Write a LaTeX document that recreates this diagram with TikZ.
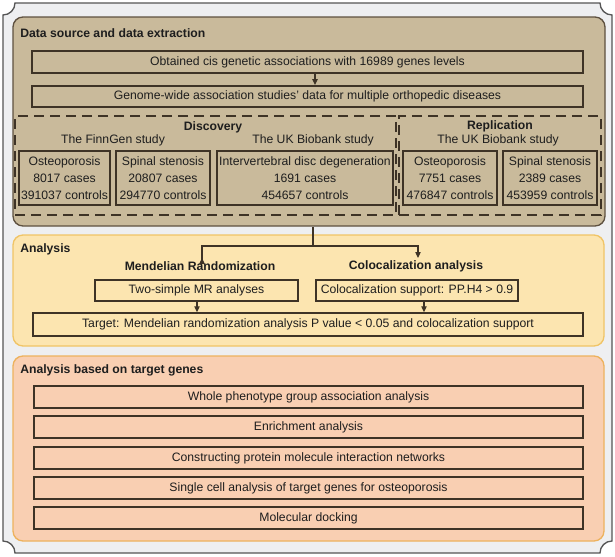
\documentclass[tikz,border=0pt]{standalone}
\usepackage{fontspec}
\setmainfont{Liberation Sans}
\usetikzlibrary{arrows.meta}
\definecolor{framefill}{HTML}{EEEFF1}
\definecolor{framedraw}{HTML}{555555}
\definecolor{tanfill}{HTML}{C9BA9B}
\definecolor{tandraw}{HTML}{5E5140}
\definecolor{boxdraw}{HTML}{3E3326}
\definecolor{yelfill}{HTML}{FCE5B0}
\definecolor{yeldraw}{HTML}{F0C466}
\definecolor{salfill}{HTML}{F9CFB2}
\definecolor{saldraw}{HTML}{EDB25E}
\definecolor{txt}{HTML}{1E1E1E}
\tikzset{
  panelbox/.style={rounded corners=7.5pt, line width=1pt, inner sep=0pt},
  plainbox/.style={draw=boxdraw, line width=1.1pt, inner sep=0pt, align=center, text=txt},
  dashbox/.style={draw=boxdraw, line width=1pt, dash pattern=on 7.5pt off 4.5pt, inner sep=0pt},
  ttl/.style={font=\fontsize{9.15}{11}\selectfont\bfseries, text=txt, inner sep=0pt},
  lbl/.style={text=txt, inner sep=0pt, align=center},
  arr/.style={draw=boxdraw, line width=0.9pt, -{Triangle[length=4.5pt,width=4pt]}},
  lin/.style={draw=boxdraw, line width=0.9pt}
}
\begin{document}
\begin{tikzpicture}[x=0.75pt,y=-0.75pt, font=\fontsize{9.15}{12.75}\selectfont]
\useasboundingbox (0,0) rectangle (615,557);
% outer frame with concave corners
\draw[fill=framefill, draw=framedraw, line width=1pt]
  (15,3) -- (600,3) .. controls (600,9.6) and (605.4,15) .. (612,15)
  -- (612,541) .. controls (605.4,541) and (600,546.4) .. (600,553)
  -- (15,553) .. controls (15,546.4) and (9.6,541) .. (3,541)
  -- (3,15) .. controls (9.6,15) and (15,9.6) .. (15,3) -- cycle;

% ---------- panel 1
\node[panelbox, fill=tanfill, draw=tandraw, minimum width=444pt, minimum height=156.75pt] (p1) at (309,121.5) {};
\node[ttl, anchor=west] (t1) at (20,33) {Data source and data extraction};
\node[plainbox, minimum width=413.25pt, minimum height=16.5pt] (b1) at (307.5,62) {Obtained cis genetic associations with 16989 genes levels};
\node[plainbox, minimum width=413.25pt, minimum height=16pt] (b2) at (307.5,96.5) {Genome-wide association studies' data for multiple orthopedic diseases};
\draw[arr] (b1.south -| 315,0) -- (b2.north -| 315,0);

\node[dashbox, minimum width=285.75pt, minimum height=74.25pt] (disc) at (205.5,165.5) {};
\node[dashbox, minimum width=151.5pt, minimum height=74.25pt] (repl) at (500,165.5) {};
\node[ttl] (dt) at (213,127) {Discovery};
\node[lbl] (fg) at (113,140) {The FinnGen study};
\node[lbl] (uk1) at (313,140) {The UK Biobank study};
\node[ttl] (rt) at (500,126.5) {Replication};
\node[lbl] (uk2) at (498,140) {The UK Biobank study};

\node[plainbox, minimum width=68.25pt, minimum height=40.5pt] (o1) at (64.5,178) {Osteoporosis\\8017 cases\\391037 controls};
\node[plainbox, minimum width=70.5pt, minimum height=40.5pt] (s1) at (163,178) {Spinal stenosis\\20807 cases\\294770 controls};
\node[plainbox, minimum width=132pt, minimum height=40.5pt] (idd) at (305,178) {Intervertebral disc degeneration\\1691 cases\\454657 controls};
\node[plainbox, minimum width=70.5pt, minimum height=40.5pt] (o2) at (450,178) {Osteoporosis\\7751 cases\\476847 controls};
\node[plainbox, minimum width=70.5pt, minimum height=40.5pt] (s2) at (550,178) {Spinal stenosis\\2389 cases\\453959 controls};

% ---------- panel 2
\node[panelbox, fill=yelfill, draw=yeldraw, minimum width=443.25pt, minimum height=83.25pt] (p2) at (308.5,290.5) {};
\node[ttl, anchor=west] (t2) at (20,249) {Analysis};
\node[ttl] (mrt) at (200,266.5) {Mendelian Randomization};
\node[ttl] (cot) at (416,266.5) {Colocalization analysis};
\node[plainbox, minimum width=152.25pt, minimum height=15.75pt] (mrb) at (196.5,290.5) {Two-simple MR analyses};
\node[plainbox, minimum width=151.5pt, minimum height=15.75pt] (cob) at (417,290.5) {Colocalization support: PP.H4 {\textgreater} 0.9};
\node[plainbox, minimum width=412.5pt, minimum height=17.25pt] (tg) at (308,324.5) {Target: Mendelian randomization analysis P value {\textless} 0.05 and colocalization support};
\coordinate (split) at (313,246);
\draw[lin] (p1.south -| split) -- (split);
\draw[arr] (split) -| (mrt.north -| 202,0) -- (202,258);
\draw[arr] (split) -| (418,258);
\draw[arr] (mrb.south -| 197,0) -- (tg.north -| 197,0);
\draw[arr] (cob.south -| 424,0) -- (tg.north -| 424,0);

% ---------- panel 3
\node[panelbox, fill=salfill, draw=saldraw, minimum width=443.25pt, minimum height=138.75pt] (p3) at (308.5,448.5) {};
\node[ttl, anchor=west] (t3) at (20,370) {Analysis based on target genes};
\node[plainbox, minimum width=411.75pt, minimum height=16.5pt] (g1) at (308.5,397) {Whole phenotype group association analysis};
\node[plainbox, minimum width=411.75pt, minimum height=16.5pt] (g2) at (308.5,427) {Enrichment analysis};
\node[plainbox, minimum width=411.75pt, minimum height=16.5pt] (g3) at (308.5,458) {Constructing protein molecule interaction networks};
\node[plainbox, minimum width=411.75pt, minimum height=16.5pt] (g4) at (308.5,488) {Single cell analysis of target genes for osteoporosis};
\node[plainbox, minimum width=411.75pt, minimum height=16.5pt] (g5) at (308.5,518) {Molecular docking};
\end{tikzpicture}
\end{document}
